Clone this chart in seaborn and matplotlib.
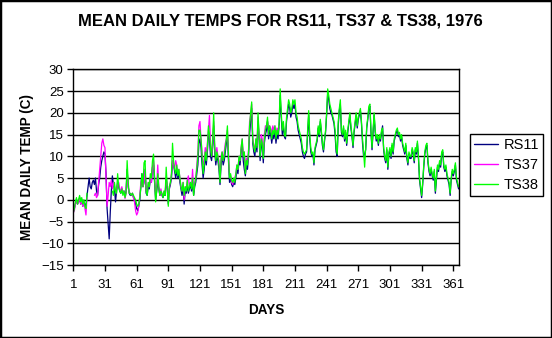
import numpy as np
import pandas as pd
import matplotlib
matplotlib.use("Agg")
import matplotlib.pyplot as plt
import seaborn as sns
from matplotlib.lines import Line2D
from matplotlib.patches import Rectangle

nan = np.nan

days = list(range(1, 367))

rs11 = ([-2.5, -2, -1, 0, -1, -0.5, 0.5, -1, 0, -1.5, -0.5, -1, -1.5, 1,
         3, 5, 3, 2.5, 4, 4.5, 3.5, 5, 2, 1,
         3.5, 5, 7.5, 9, 10, 11, 10.5, 6, -2, -5.5,
         -9, -3, 2, 5.5, 3.5, 2.5,
         -0.5, 2, 4, 3, 2, 1.5, 2.5, 1.5, 2, 1,
         2, 7, 3, 1.5, 1, 1, 1.5, 0.5, 0, -1,
         -2, -2.5, -1.5, 0, 3, 6, 3, 4, 7, 1.5,
         1, 3, 2.5, 5, 4, 7.5, 8, 4, 0, 2,
         4, 2.5, 1, 2, 1, 0.5, 1.5, 1, 5, 2.5,
         -1, 2.5, 3.5, 5, 8.5, 8, 6.5, 5, 7, 5,
         6, 4, 2.5, 1, 3, -1, 2, 1.5, 3.5, 1.5,
         2.5, 3.5, 2, 4, 1, 3, 4, 6, 8, 13,
         14, 12, 8, 5, 7, 10, 8, 11, 15, 14,
         10, 9, 12, 17, 11, 8, 10, 9, 7, 3.5,
         8, 10, 8, 9, 11, 13, 15, 9, 4, 5,
         3.5, 3, 4, 3.5, 5, 7, 6, 9, 8, 11,
         13, 9, 7, 5.5, 8, 7, 10, 15, 18, 21,
         13, 11, 10, 13, 11, 18, 14, 9, 13, 12,
         8.5, 13, 15, 16, 18, 14, 16, 15, 13, 15,
         14, 16, 13, 15, 14, 17, 24, 19, 15, 17,
         14.5, 14, 18, 20, 22, 21, 19, 20, 22, 21,
         22, 19, 18, 16, 15, 14, 13, 11, 10, 9.5,
         10.5, 11, 15, 19.5, 14, 11, 10, 10.5, 8, 11.5,
         12.5, 13.5, 16.5, 14.5, 18, 15.5, 12.5, 11, 13.5, 15.5,
         19.5, 24.5, 23, 21, 20, 19.5, 18.5, 17.5, 15, 11,
         10, 17, 20.5, 22, 15.5, 14.5, 16.5, 13.5, 15.5, 12.5,
         15.5, 17.5, 19.5, 16.5, 14.5, 12, 15.5, 17.5, 19.5, 16.5,
         18.5, 19.5, 20.5, 17.5, 13, 10, 10.5, 11.5, 16.5, 18.5,
         21, 21.5, 15.5, 11.5, 15.5, 19.5, 15.5, 13.5, 14.5, 12.5,
         14.5, 13.5, 15.5, 17, 11.5, 9.5, 8.5, 11.5, 7, 10.5,
         11.5, 9.5, 12.5, 10.5, 13.5, 14.5, 15.5, 16, 14.5, 15,
         13.5, 14.5, 12.5, 11.5, 10.5, 12.5, 9.5, 8, 10.5, 9.5,
         9.5, 11.5, 10.5, 8.5, 11.5, 10.5, 13, 9.5, 4.5, 2.5,
         0.5, 3.5, 7.5, 10.5, 12, 12.5, 8.5, 6.5, 5.5, 7,
         5.5, 4.5, 6.5, 1.5, 4.5, 7.5, 6.5, 8.5, 7.5, 10.5,
         11, 7.5, 6.5, 7.5, 5.5, 4.5, 3.5, 1, 4.5, 6.5,
         5.5, 6.5, 8, 4.5, 3.5, 2.5])

ts37 = ([-3, -2.5, -1, 0, -1, -0.5, 0.5, -1, 0, -1.5, -0.5, -2, -3.5, 0.5]
        + [nan] * 6
        + [1, 1.5, 0.5, 1, 4, 7, 10, 13, 14, 12.5,
           12, 5, -1.5, 1, 4, 3, 4.5, 2.5, 4, 3,
           2, 2.5, 3.5, 4, 2.5, 2, 3, 1.5, 2, 0.3,
           1.5, 6, 3, 1.5, 1.5, 1, 1.5, 0.5, -0.5, -2.5,
           -3.5, -3, -1.5, 1, 4, 5, 3, 4, 7, 2,
           2, 4, 3, 5, 4, 7, 9, 5, 1, 3,
           8, 3, 1, 2.5, 1, 1, 2, 1.5, 5, 3,
           -0.5, 3, 4, 6, 9, 8, 7, 9, 8, 6,
           7, 5, 3, 2, 4, 0, 3, 2.5, 4.5, 5.5,
           3, 4, 3, 7, 2, 4, 5, 8, 11, 17,
           18, 14, 11, 8, 9, 12, 10, 13, 16, 19.4,
           13, 10, 13, 18, 12, 10, 12, 10, 9, 5,
           10, 11, 9, 11, 13, 14, 16, 11, 6, 5.5,
           4, 3.5, 4.5, 5, 6, 8, 7, 10, 9, 12,
           14, 10, 11, 7, 9.5, 8.5, 11.5, 18, 19.5, 22,
           14, 12.5, 11.5, 14, 12.5, 19, 15, 11, 15, 14,
           10, 15, 17, 17, 18, 16, 17, 16.5, 15, 17,
           16, 17, 15, 16.5, 16, 17]
        + [nan] * 170)

ts38 = ([-3, -2, -0.5, 0.5, -1, 0, 1, -0.5, 0.5, -1,
         0, -1.5, -2, 1.5]
        + [nan] * 23
        + [2, 1, 4,
           2, 1.5, 6, 3, 2, 1.5, 2.5, 1, 2, 0.5,
           1.5, 9, 4, 1.5, 1.5, 1, 1.5, 1, 0.5, 0,
           -1, -1.5, -1, 0.5, 3, 6, 3, 8.5, 9, 2,
           1, 4, 3, 6, 5, 9, 10.5, 5, -0.5, 2,
           6, 3, 1, 2, 1.5, 0.5, 2, 1, 7.5, 3,
           -1.5, 3, 4, 6, 13, 9, 7, 6, 8, 5.5,
           7, 5, 3, 2, 4, 1, 3, 2, 4.5, 2,
           3, 4, 2.5, 5, 1, 3.5, 5, 7, 10, 16,
           16, 14, 10, 6, 8, 11, 9, 12, 17, 15,
           12, 10, 14, 20, 12, 9, 11, 10, 8, 4,
           9, 11, 9, 10, 12, 14, 17, 10, 5, 6,
           4.5, 4, 5, 4, 6, 8, 7, 10, 9, 12,
           14, 10, 11, 6, 9, 8, 11, 17, 20, 22.5,
           14, 12, 11, 14, 12, 20, 15, 10, 14, 13,
           9.5, 14, 16, 17, 19, 15, 17, 16, 14, 16,
           15, 17, 14, 16, 15, 18, 25.5, 20, 16, 18,
           15, 14.5, 19, 21, 23, 22, 20, 21, 23, 22,
           23, 20, 19, 17, 16, 15, 14, 12, 11, 10.5,
           11, 11.5, 16, 20.5, 15, 12, 10.5, 11, 8.5, 12,
           13, 14, 17, 15, 18.5, 16, 13, 11.5, 14, 16,
           20, 25.5, 24, 22, 21, 20, 19, 18, 16, 12,
           10.5, 18, 21, 23, 16, 15, 17, 14, 16, 13,
           16, 18, 20, 17, 15, 12.5, 16, 18, 20, 17,
           19, 20, 21, 18, 14, 11, 7.5, 12, 17, 19,
           21.5, 22, 16, 12, 16, 20, 16, 14, 15, 13,
           15, 14, 16, 16.5, 12, 10, 9, 12, 7.5, 11,
           12, 10, 13, 11, 14, 15, 16, 16.5, 15, 15.5,
           14, 15, 13, 12, 11, 13, 10, 8.5, 11, 10,
           10, 12, 11, 9, 12, 11, 13.5, 10, 5, 3,
           1, 4, 8, 11, 12.5, 13, 9, 7, 6, 7.5,
           6, 5, 7, 2, 5, 8, 7, 9, 8, 11,
           11.5, 8, 7, 8, 6, 5, 4, 1.5, 5, 7,
           6, 7, 8.5, 5, 4, 3])

series_names = ["RS11", "TS37", "TS38"]
series_colors = ["#000080", "#FF00FF", "#00FF00"]
xtick_values = list(range(1, 362, 30))
ytick_values = list(range(-15, 31, 5))

assert len(rs11) == 366, len(rs11)
assert len(ts37) == 366, len(ts37)
assert len(ts38) == 366, len(ts38)

frames = []
for name, vals in zip(series_names, [rs11, ts37, ts38]):
    d = pd.DataFrame({"day": days, "temp": vals, "series": name})
    d["seg"] = name + "_" + d["temp"].isna().cumsum().astype(str)
    frames.append(d.dropna())
df = pd.concat(frames, ignore_index=True)

sns.set_theme(style="white")
plt.rcParams["font.family"] = ["Liberation Sans", "DejaVu Sans"]

W, H = 552, 338
fig = plt.figure(figsize=(W / 100, H / 100), dpi=100)
fig.patch.set_facecolor("white")
L, R, T, B = 73.3, 459.0, 69.3, 265.0
ax = fig.add_axes([L / W, 1 - B / H, (R - L) / W, (B - T) / H])
ax.set_facecolor("white")

sns.lineplot(data=df, x="day", y="temp", hue="series", hue_order=series_names,
             palette=series_colors, units="seg", estimator=None, sort=True,
             linewidth=0.9, ax=ax, legend=False)

ax.set_xlim(1, 366.4)
ax.set_ylim(-15, 30)
ax.set_xticks(xtick_values)
ax.set_yticks(ytick_values)
ax.yaxis.grid(True, color="black", linewidth=1.0)
ax.xaxis.grid(False)
ax.set_axisbelow(True)
for s in ax.spines.values():
    s.set_color("black")
    s.set_linewidth(1.0)
ax.tick_params(axis="both", which="both", direction="out", length=4, width=1,
               color="black", labelsize=9.5, labelcolor="black", pad=3,
               bottom=True, left=True)
ax.tick_params(axis="x", pad=6)

ax.set_xlabel("DAYS", fontsize=9.75, fontweight="bold", color="black")
ax.set_ylabel("MEAN DAILY TEMP (C)", fontsize=9.75, fontweight="bold", color="black")
ax.xaxis.set_label_coords(0.5, (B - 303) / (B - T))
ax.yaxis.set_label_coords((34.0 - L) / (R - L), 0.5)

fig.text(280.5 / W, 1 - 21.5 / H, "MEAN DAILY TEMPS FOR RS11, TS37 & TS38, 1976",
         ha="center", va="center", fontsize=12, fontweight="bold", color="black")

handles = [Line2D([0], [0], color=c, lw=1.0) for c in series_colors]
leg = ax.legend(handles, series_names, loc="upper left",
                bbox_to_anchor=(470 / W, 1 - 134 / H), bbox_transform=fig.transFigure,
                frameon=True, fancybox=False, framealpha=1, edgecolor="black",
                fontsize=10.5, handlelength=1.6, handletextpad=0.4, labelspacing=0.4,
                borderpad=0.3, borderaxespad=0)
leg.get_frame().set_linewidth(1.0)
for t in leg.get_texts():
    t.set_color("black")

fig.patches.append(Rectangle((0, 0), 1, 1, transform=fig.transFigure, fill=False,
                             edgecolor="black", linewidth=2.5))

fig.savefig("out.png", dpi=100, facecolor="white")
